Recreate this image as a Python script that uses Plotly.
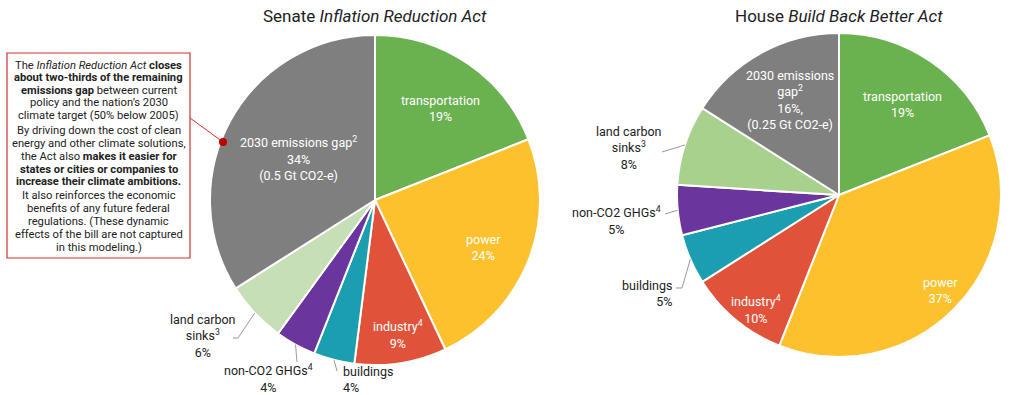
import math
import plotly.graph_objects as go

W, H = 1019, 395

# ---------------- data ----------------
categories = ["transportation", "power", "industry", "buildings",
              "non-CO2 GHGs", "land carbon sinks", "2030 emissions gap"]
senate_values = [19, 24, 9, 4, 4, 6, 34]
house_values = [19, 37, 10, 5, 5, 8, 16]

senate_names = ["transportation", "power", "industry<sup>4</sup>", "buildings",
                "non-CO2 GHGs<sup>4</sup>", "land carbon<br>sinks<sup>3</sup>",
                "2030 emissions gap<sup>2</sup>"]
house_names = ["transportation", "power", "industry<sup>4</sup>", "buildings",
               "non-CO2 GHGs<sup>4</sup>", "land carbon<br>sinks<sup>3</sup>",
               "2030 emissions<br>gap<sup>2</sup>"]
senate_extra = ["", "", "", "", "", "", "<br>(0.5 Gt CO2-e)"]
house_extra = ["", "", "", "", "", "", "<br>(0.25 Gt CO2-e)"]
house_pct_suffix = ["", "", "", "", "", "", ","]

titles = ["Senate <i>Inflation Reduction Act</i>", "House <i>Build Back Better Act</i>"]

callout_lines = [
    "The <i>Inflation Reduction Act</i> <b>closes</b>",
    "<b>about two-thirds of the remaining</b>",
    "<b>emissions gap</b> between current",
    "policy and the nation’s 2030",
    "climate target (50% below 2005)",
    "By driving down the cost of clean",
    "energy and other climate solutions,",
    "the Act also <b>makes it easier for</b>",
    "<b>states or cities or companies to</b>",
    "<b>increase their climate ambitions.</b>",
    "It also reinforces the economic",
    "benefits of any future federal",
    "regulations. (These dynamic",
    "effects of the bill are not captured",
    "in this modeling.)",
]

# ---------------- style ----------------
FONT = "Roboto"
senate_colors = ["#6ab150", "#fcc12d", "#e0533a", "#1b9eaf", "#6a359c", "#c6dfb6", "#7f7f7f"]
house_colors = ["#6ab150", "#fcc12d", "#e0533a", "#1b9eaf", "#6a359c", "#a9d18e", "#7f7f7f"]
inside = [True, True, True, False, False, False, True]

# pie geometry in pixels: (cx, cy, r)
PIES = [(375, 200, 165), (839, 195, 162)]

# label placement, pixel offsets from pie center: (dx, dy, xanchor, leader points)
senate_lab = [
    (65, -92, "center", None),
    (108, 47, "center", None),
    (23, 134, "center", None),
    (-34, 179.5, "left", [(-38, 171)]),
    (-107, 178.5, "center", [(-78, 162)]),
    (-172, 136, "center", [(-137, 138), (-142, 138)]),
    (-77, -42, "center", None),
]
house_lab = [
    (63, -91, "center", None),
    (101, 95, "center", None),
    (-83, 114.5, "center", None),
    (-165, 98, "right", [(-157, 93), (-163, 93)]),
    (-223, 25, "center", [(-174, 19)]),
    (-210, -47, "center", [(-177, -43)]),
    (-49, -95, "center", None),
]

# callout line y positions (px)
callout_y = [65, 77, 90, 102.7, 115.5, 130.7, 143.3, 156, 169, 181.7,
             195, 208, 221.3, 234, 247]


def px(x):
    return x / W


def py(y):
    return 1 - y / H


fig = go.Figure()
annotations = []
shapes = []

sets = [
    (senate_values, senate_names, senate_extra, [""] * 7, senate_colors, senate_lab),
    (house_values, house_names, house_extra, house_pct_suffix, house_colors, house_lab),
]

for k, (vals, names, extra, suf, cols, labs) in enumerate(sets):
    cx, cy, r = PIES[k]
    fig.add_trace(go.Pie(
        labels=categories, values=vals, sort=False, direction="clockwise",
        rotation=0, textinfo="none", hoverinfo="label+percent",
        marker=dict(colors=cols, line=dict(color="white", width=2)),
        domain=dict(x=[px(cx - r), px(cx + r)], y=[py(cy + r), py(cy - r)]),
        showlegend=False,
    ))
    total = sum(vals)
    cum = 0
    for i, v in enumerate(vals):
        mid = (cum + v / 2) / total * 2 * math.pi
        cum += v
        dx, dy, xa, leader = labs[i]
        text = f"{names[i]}<br>{v}%{suf[i]}{extra[i]}"
        annotations.append(dict(
            x=px(cx + dx), y=py(cy + dy), xref="paper", yref="paper",
            text=text, showarrow=False, xanchor=xa, yanchor="middle",
            align="center" if xa == "center" else xa,
            font=dict(family=FONT, size=12.5, color="white" if inside[i] else "#222222"),
        ))
        if leader:
            sx = cx + r * math.sin(mid)
            sy = cy - r * math.cos(mid)
            pts = [(sx, sy)] + [(cx + a, cy + b) for a, b in leader]
            path = "M " + " L ".join(f"{px(a):.5f},{py(b):.5f}" for a, b in pts)
            shapes.append(dict(type="path", path=path, xref="paper", yref="paper",
                               line=dict(color="#9a9a9a", width=1)))
    annotations.append(dict(
        x=px(cx), y=py(16), xref="paper", yref="paper", text=titles[k],
        showarrow=False, xanchor="center", yanchor="middle",
        font=dict(family=FONT, size=17, color="#222222"),
    ))

# callout box
for txt, yc in zip(callout_lines, callout_y):
    annotations.append(dict(
        x=px(98.5), y=py(yc), xref="paper", yref="paper", text=txt,
        showarrow=False, xanchor="center", yanchor="middle", align="center",
        font=dict(family=FONT, size=11.2, color="#222222"),
    ))

shapes.append(dict(type="rect", xref="paper", yref="paper",
                   x0=px(7), x1=px(190), y0=py(258), y1=py(53),
                   line=dict(color="#d32f2f", width=1.2), fillcolor="rgba(0,0,0,0)"))
shapes.append(dict(type="line", xref="paper", yref="paper",
                   x0=px(190), y0=py(118), x1=px(223), y1=py(142),
                   line=dict(color="#d32f2f", width=1)))
shapes.append(dict(type="circle", xref="paper", yref="paper",
                   x0=px(219), x1=px(227), y0=py(146), y1=py(138),
                   line=dict(color="#c00000", width=0), fillcolor="#c00000"))

fig.update_layout(
    width=W, height=H, margin=dict(l=0, r=0, t=0, b=0),
    paper_bgcolor="white", plot_bgcolor="white",
    font=dict(family=FONT),
    annotations=annotations, shapes=shapes,
)

fig.write_html(
    "out.html",
    config={"displayModeBar": False},
    post_script="document.body.style.margin='0';document.body.style.overflow='hidden';",
)
